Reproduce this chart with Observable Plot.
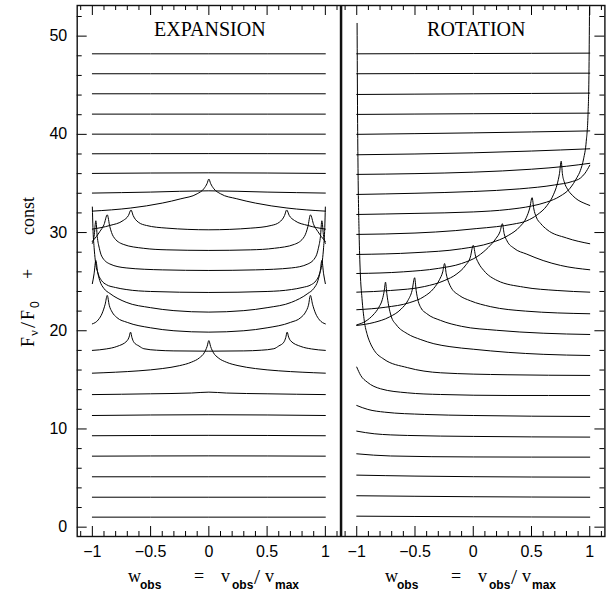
<!DOCTYPE html>
<html><head><meta charset="utf-8">
<script src="https://cdn.jsdelivr.net/npm/d3@7"></script>
<script src="https://cdn.jsdelivr.net/npm/@observablehq/plot@0.6"></script>
<style>
body{margin:0;background:#fff}
#wrap{position:relative;width:612px;height:598px;overflow:hidden;background:#fff}
#wrap svg{position:absolute;top:0}
</style></head><body><div id="wrap"></div>
<script>
// ---------- data: EXPANSION profiles (w, F/F0 + const) ----------
const e00 = [[-1,1.02],[0,1.02],[1,1.02]];
const e02 = [[-1,3.05],[0,3.05],[1,3.05]];
const e04 = [[-1,5.13],[0,5.13],[1,5.13]];
const e06 = [[-1,7.23],[0,7.26],[1,7.23]];
const e08 = [[-1,9.31],[0,9.35],[1,9.31]];
const e10 = [[-1,11.37],[0,11.45],[1,11.37]];
const e12 = [[-1,13.5],[-0.5,13.58],[-0.15,13.66],[0,13.75],[0.15,13.66],[0.5,13.58],[1,13.5]];
const e14 = [[-1,15.68],[-0.8,15.78],[-0.6,15.92],[-0.4,16.15],[-0.25,16.45],[-0.15,16.8],[-0.08,17.25],[-0.04,17.75],[-0.015,18.4],[0,19.0],[0.015,18.4],[0.04,17.75],[0.08,17.25],[0.15,16.8],[0.25,16.45],[0.4,16.15],[0.6,15.92],[0.8,15.78],[1,15.68]];
const e16 = [[-1,18.0],[-0.88,18.15],[-0.79,18.4],[-0.7,19.0],[-0.685,19.35],[-0.672,19.86],[-0.66,19.3],[-0.644,18.84],[-0.6,18.45],[-0.558,18.17],[-0.45,18.02],[-0.3,17.95],[0,17.92],[0.3,17.95],[0.45,18.02],[0.558,18.17],[0.6,18.45],[0.644,18.84],[0.66,19.3],[0.672,19.86],[0.685,19.35],[0.7,19.0],[0.79,18.4],[0.88,18.15],[1,18.0]];
const e18 = [[-1,20.7],[-0.95,21.1],[-0.915,21.8],[-0.89,22.7],[-0.872,23.6],[-0.855,22.6],[-0.83,21.9],[-0.79,21.35],[-0.7,20.85],[-0.5,20.3],[-0.3,20.0],[0,19.86],[0.3,20.0],[0.5,20.3],[0.7,20.85],[0.79,21.35],[0.83,21.9],[0.855,22.6],[0.872,23.6],[0.89,22.7],[0.915,21.8],[0.95,21.1],[1,20.7]];
const e20 = [[-1,24.8],[-0.985,25.8],[-0.97,27.16],[-0.955,26.0],[-0.936,25.1],[-0.9,24.3],[-0.85,23.8],[-0.71,22.9],[-0.5,22.35],[-0.3,22.05],[0,21.9],[0.3,22.05],[0.5,22.35],[0.71,22.9],[0.85,23.8],[0.9,24.3],[0.936,25.1],[0.955,26.0],[0.97,27.16],[0.985,25.8],[1,24.8]];
const e22 = [[-1,32.6],[-0.995,30.5],[-0.985,28.5],[-0.975,27.2],[-0.95,25.8],[-0.92,25.1],[-0.88,24.7],[-0.8,24.4],[-0.71,24.2],[-0.5,24.0],[0,23.9],[0.5,24.0],[0.71,24.2],[0.8,24.4],[0.88,24.7],[0.92,25.1],[0.95,25.8],[0.975,27.2],[0.985,28.5],[0.995,30.5],[1,32.6]];
const e24 = [[-1,28.9],[-0.985,29.6],[-0.97,31.2],[-0.958,29.6],[-0.94,28.4],[-0.92,27.6],[-0.85,26.8],[-0.71,26.4],[-0.4,26.2],[0,26.14],[0.4,26.2],[0.71,26.4],[0.85,26.8],[0.92,27.6],[0.94,28.4],[0.958,29.6],[0.97,31.2],[0.985,29.6],[1,28.9]];
const e26 = [[-1,29.1],[-0.965,29.6],[-0.936,30.1],[-0.9,30.8],[-0.872,31.8],[-0.85,30.6],[-0.82,29.6],[-0.735,28.8],[-0.563,28.4],[-0.36,28.24],[0,28.18],[0.36,28.24],[0.563,28.4],[0.735,28.8],[0.82,29.6],[0.85,30.6],[0.872,31.8],[0.9,30.8],[0.936,30.1],[0.965,29.6],[1,29.1]];
const e28 = [[-1,30.35],[-0.85,30.72],[-0.735,31.23],[-0.69,31.74],[-0.668,32.3],[-0.65,31.74],[-0.606,31.06],[-0.535,30.72],[-0.36,30.45],[0,30.28],[0.36,30.45],[0.535,30.72],[0.606,31.06],[0.65,31.74],[0.668,32.3],[0.69,31.74],[0.735,31.23],[0.85,30.72],[1,30.35]];
const e30 = [[-1,32.18],[-0.67,32.5],[-0.4,33.0],[-0.24,33.44],[-0.1,33.95],[-0.043,34.46],[-0.015,35.0],[0,35.45],[0.015,35.0],[0.043,34.46],[0.1,33.95],[0.24,33.44],[0.4,33.0],[0.67,32.5],[1,32.18]];
const e32 = [[-1,34.02],[-0.5,34.12],[0,34.25],[0.5,34.12],[1,34.02]];
const e34 = [[-1,36.02],[0,36.08],[1,36.02]];
const e36 = [[-1,38.02],[0,38.04],[1,38.02]];
const e38 = [[-1,40.02],[0,40.02],[1,40.02]];
const e40 = [[-1,42.06],[0,42.06],[1,42.06]];
const e42 = [[-1,44.13],[0,44.13],[1,44.13]];
const e44 = [[-1,46.17],[0,46.17],[1,46.17]];
const e46 = [[-1,48.2],[0,48.2],[1,48.2]];

// ---------- data: ROTATION profiles ----------
const r00 = [[-1,1.12],[0,1.06],[1,1.02]];
const r02 = [[-1,3.2],[0,3.1],[1,3.05]];
const r04 = [[-1,5.3],[-0.5,5.2],[0,5.14],[1,5.09]];
const r06 = [[-1,7.47],[-0.71,7.25],[0,7.15],[1,7.13]];
const r08 = [[-1,9.78],[-0.85,9.51],[-0.566,9.34],[0,9.24],[1,9.17]];
const r10 = [[-1,12.39],[-0.905,11.99],[-0.76,11.71],[-0.42,11.48],[0,11.37],[1,11.27]];
const r12 = [[-1,16.3],[-0.966,15.45],[-0.91,14.77],[-0.795,14.09],[-0.566,13.68],[-0.28,13.51],[0.29,13.41],[1,13.41]];
const r14 = [[-0.997,51.3],[-0.993,42],[-0.989,36.5],[-0.98,30],[-0.97,26],[-0.955,23.3],[-0.935,21.0],[-0.91,19.6],[-0.886,18.8],[-0.85,18.0],[-0.766,17.1],[-0.566,16.25],[-0.28,15.72],[0.29,15.52],[1,15.45]];
const r16 = [[-1,20.6],[-0.92,21.0],[-0.86,21.6],[-0.81,22.4],[-0.78,23.2],[-0.765,24.0],[-0.753,24.95],[-0.742,23.8],[-0.725,22.5],[-0.705,21.5],[-0.66,20.6],[-0.566,19.7],[-0.45,19.1],[-0.338,18.68],[-0.2,18.38],[0,18.12],[0.3,17.8],[0.6,17.6],[1,17.48]];
const r18 = [[-1,20.54],[-0.85,20.85],[-0.72,21.4],[-0.62,22.2],[-0.56,23.1],[-0.525,24.1],[-0.503,25.4],[-0.49,24.1],[-0.472,23.0],[-0.45,22.35],[-0.4,21.75],[-0.28,21.05],[-0.1,20.45],[0.2,20.05],[0.6,19.75],[1,19.62]];
const r20 = [[-1,22.14],[-0.75,22.4],[-0.55,22.85],[-0.42,23.5],[-0.34,24.3],[-0.29,25.2],[-0.262,26.0],[-0.246,26.85],[-0.232,25.8],[-0.21,24.9],[-0.19,24.4],[-0.12,23.6],[-0.024,23.05],[0.15,22.45],[0.45,22.0],[1,21.73]];
const r22 = [[-1,23.93],[-0.71,24.1],[-0.42,24.5],[-0.25,25.1],[-0.14,25.8],[-0.07,26.6],[-0.025,27.5],[0,28.7],[0.02,27.6],[0.045,26.9],[0.09,26.14],[0.205,25.12],[0.433,24.44],[0.72,24.1],[1,23.93]];
const r24 = [[-1,25.83],[-0.6,26.0],[-0.3,26.35],[-0.1,26.85],[0.04,27.6],[0.13,28.5],[0.195,29.4],[0.23,30.1],[0.25,30.9],[0.265,29.9],[0.29,29.15],[0.35,28.4],[0.46,27.8],[0.6,27.15],[0.75,26.65],[1,26.21]];
const r26 = [[-1,27.77],[-0.5,27.95],[-0.1,28.35],[0.15,28.95],[0.3,29.7],[0.4,30.6],[0.455,31.5],[0.485,32.5],[0.505,33.55],[0.52,32.4],[0.54,31.6],[0.58,30.9],[0.633,30.3],[0.8,29.45],[1,28.86]];
const r28 = [[-1,29.81],[-0.5,29.95],[-0.15,30.2],[0.025,30.4],[0.2,30.6],[0.34,30.85],[0.46,31.2],[0.548,31.8],[0.633,32.75],[0.69,33.9],[0.72,34.9],[0.74,36.0],[0.755,37.27],[0.765,36.0],[0.78,35.2],[0.81,34.4],[0.85,33.8],[0.9,33.3],[0.95,33.0],[1,32.76]];
const r30 = [[-1,31.84],[-0.5,31.95],[0,32.1],[0.3,32.35],[0.5,32.7],[0.63,33.1],[0.745,33.7],[0.83,34.5],[0.89,35.6],[0.919,36.3],[0.947,37.5],[0.97,39.3],[0.985,42],[0.993,46],[0.998,52.95]];
const r32 = [[-1,33.88],[-0.5,34.0],[0,34.18],[0.4,34.45],[0.7,34.85],[0.85,35.2],[0.92,35.55],[0.96,36.05],[1,36.85]];
const r34 = [[-1,35.92],[-0.5,36.0],[0,36.15],[0.5,36.45],[0.8,36.75],[1,37.05]];
const r36 = [[-1,37.92],[0,38.12],[0.5,38.3],[1,38.53]];
const r38 = [[-1,40.0],[0,40.15],[1,40.35]];
const r40 = [[-1,42.03],[0,42.1],[1,42.16]];
const r42 = [[-1,44.06],[0,44.13],[1,44.2]];
const r44 = [[-1,46.17],[0,46.2],[1,46.23]];
const r46 = [[-1,48.2],[0,48.23],[1,48.27]];

// ---------- ticks & labels ----------
const xMajorTicks = [-1, -0.5, 0, 0.5, 1];
const xTickLabels = ["\u22121", "\u22120.5", "0", "0.5", "1"];
const xMinorTicks = [-1.1,-0.9,-0.8,-0.7,-0.6,-0.4,-0.3,-0.2,-0.1,0.1,0.2,0.3,0.4,0.6,0.7,0.8,0.9,1.1];
const yMajorTicks = [0, 10, 20, 30, 40, 50];
const yMinorTicks = [2,4,6,8,12,14,16,18,22,24,26,28,32,34,36,38,42,44,46,48,52];
const panelTitles = ["EXPANSION", "ROTATION"];

const expansionCurves = [e00,e02,e04,e06,e08,e10,e12,e14,e16,e18,e20,e22,e24,e26,e28,e30,e32,e34,e36,e38,e40,e42,e44,e46];
const rotationCurves  = [r00,r02,r04,r06,r08,r10,r12,r14,r16,r18,r20,r22,r24,r26,r28,r30,r32,r34,r36,r38,r40,r42,r44,r46];
const toRows = curves => curves.flatMap((pts, i) => pts.map(([x, y]) => ({id: i, x, y})));

const W = 263.3, H = 531;
const serif = "'Liberation Serif', 'Times New Roman', serif";
const sans = "'Liberation Sans', Arial, Helvetica, sans-serif";

function panel({rows, title, width, ml, mr, leftSide, titleDx}) {
  const tickYSide = leftSide ? {insetRight: W - 10} : {insetLeft: W - 10};
  const tickYSideMinor = leftSide ? {insetRight: W - 5} : {insetLeft: W - 5};
  const marks = [
    Plot.line(rows, {x: "x", y: "y", z: "id", curve: "monotone-x", stroke: "#000", strokeWidth: 1}),
    Plot.tickX(xMajorTicks, {x: d => d, insetTop: H - 10, stroke: "#000"}),
    Plot.tickX(xMajorTicks, {x: d => d, insetBottom: H - 10, stroke: "#000"}),
    Plot.tickX(xMinorTicks, {x: d => d, insetTop: H - 5, stroke: "#000"}),
    Plot.tickX(xMinorTicks, {x: d => d, insetBottom: H - 5, stroke: "#000"}),
    Plot.tickY(yMajorTicks, {y: d => d, ...tickYSide, stroke: "#000"}),
    Plot.tickY(yMinorTicks, {y: d => d, ...tickYSideMinor, stroke: "#000"}),
    Plot.frame({stroke: "#111", strokeWidth: 1.4}),
    Plot.axisX({ticks: xMajorTicks, tickSize: 0, tickPadding: 9, label: null,
      tickFormat: d => xTickLabels[xMajorTicks.indexOf(d)], fontSize: 16}),
    Plot.text([title], {text: d => d, frameAnchor: "top", lineAnchor: "middle", dy: 24.5, dx: titleDx,
      fontFamily: serif, fontSize: 20, fill: "#000"})
  ];
  if (leftSide) marks.push(Plot.axisY({ticks: yMajorTicks, tickSize: 0, tickPadding: 10, label: null, fontSize: 16}));
  return Plot.plot({
    width, height: 598, marginLeft: ml, marginRight: mr, marginTop: 5, marginBottom: 62,
    x: {domain: [-1.13, 1.13]},
    y: {domain: [-0.95, 53.12], axis: leftSide ? undefined : null},
    style: {fontFamily: sans, fontSize: "16px", color: "#000", background: "transparent"},
    marks
  });
}

const wrap = document.getElementById("wrap");
const left = panel({rows: toRows(expansionCurves), title: panelTitles[0], width: 341, ml: 76.7, mr: 1, leftSide: true, titleDx: 1});
left.style.left = "0px";
wrap.appendChild(left);
const right = panel({rows: toRows(rotationCurves), title: panelTitles[1], width: 272, ml: 1.1, mr: 7.6, leftSide: false, titleDx: 3});
right.style.left = "340px";
wrap.appendChild(right);

// ---------- axis titles (with subscripts) ----------
const ov = d3.select(wrap).append("svg").attr("width", 612).attr("height", 598)
  .style("left", "0px").style("pointer-events", "none");

function xTitle(x0) {
  const t = ov.append("text").attr("font-family", serif).attr("font-size", 17).attr("fill", "#000");
  const parts = [
    ["w", 0, 582, serif, 18, "normal"],
    ["obs", 12, 589, sans, 12, "bold"],
    ["=", 66, 582, serif, 18, "normal"],
    ["v", 93, 582, serif, 18, "normal"],
    ["obs", 104, 589, sans, 12, "bold"],
    ["/", 126, 584, serif, 22, "normal"],
    ["v", 137, 582, serif, 18, "normal"],
    ["max", 147, 589, sans, 12, "bold"]
  ];
  for (const [s, dx, y, ff, fs, fw] of parts)
    t.append("tspan").attr("x", x0 + dx).attr("y", y).attr("font-family", ff)
      .attr("font-size", fs).attr("font-weight", fw).text(s);
}
xTitle(128);
xTitle(385);

const yt = ov.append("text").attr("transform", "translate(34,347) rotate(-90)")
  .attr("font-family", serif).attr("font-size", 18).attr("fill", "#000");
yt.append("tspan").attr("x", 0).attr("y", 0).text("F");
yt.append("tspan").attr("x", 11).attr("y", 4).attr("font-size", 13).text("\u03bd");
yt.append("tspan").attr("x", 19).attr("y", 1).attr("font-size", 22).text("/");
yt.append("tspan").attr("x", 27).attr("y", 0).text("F");
yt.append("tspan").attr("x", 39).attr("y", 5).attr("font-size", 12).attr("font-family", sans).text("0");
yt.append("tspan").attr("x", 68).attr("y", 0).text("+");
yt.append("tspan").attr("x", 112).attr("y", 0).text("const");
</script></body></html>
